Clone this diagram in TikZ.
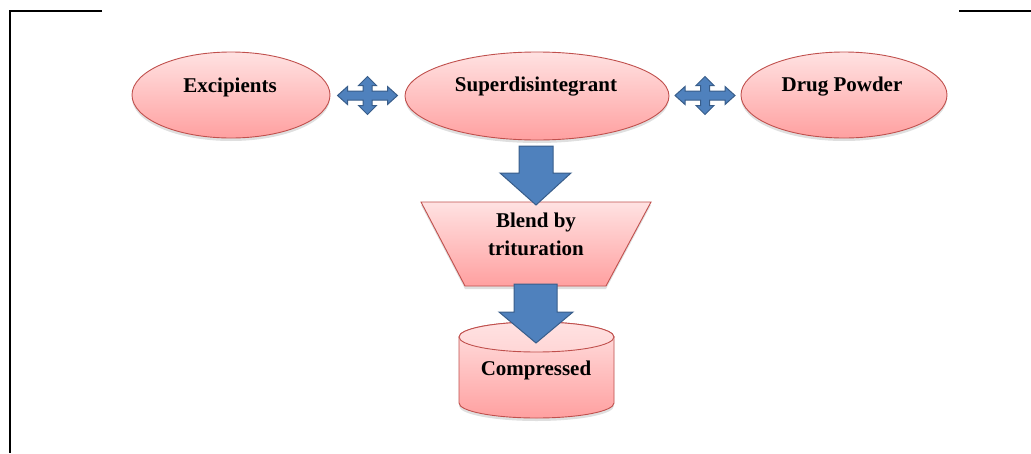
\documentclass[tikz,border=0pt]{standalone}
\usepackage{fontspec}
\setmainfont{Liberation Serif}
\usetikzlibrary{shapes.geometric,shadows,calc}
\definecolor{pinktop}{RGB}{255,226,226}
\definecolor{pinkbot}{RGB}{255,160,160}
\definecolor{pinklid}{RGB}{255,214,214}
\definecolor{pinkline}{RGB}{192,80,77}
\definecolor{arrowfill}{RGB}{79,129,189}
\definecolor{arrowline}{RGB}{56,93,138}
\tikzset{
  shp/.style={draw=pinkline, line width=0.9pt, top color=pinktop, bottom color=pinkbot,
    drop shadow={shadow xshift=0pt, shadow yshift=-3pt, opacity=0.25}},
  ell/.style={shp, ellipse, inner sep=0pt},
  lbl/.style={font=\bfseries\fontsize{21}{28}\selectfont, align=center, text=black, inner sep=0pt},
  blockarrow/.style={draw=arrowline, fill=arrowfill, line width=1pt, line join=miter},
  frameline/.style={line width=2pt, black},
  quadarrow/.pic={
    \path[blockarrow] (-30,0) -- (-20,-9) -- (-20,-4.5) -- (-4.5,-4.5) -- (-4.5,-10) -- (-9,-10)
      -- (0,-19) -- (9,-10) -- (4.5,-10) -- (4.5,-4.5) -- (20,-4.5) -- (20,-9) -- (30,0)
      -- (20,9) -- (20,4.5) -- (4.5,4.5) -- (4.5,10) -- (9,10) -- (0,19) -- (-9,10)
      -- (-4.5,10) -- (-4.5,4.5) -- (-20,4.5) -- (-20,9) -- cycle;
  }
}
\begin{document}
\begin{tikzpicture}[x=1pt,y=-1pt]
\useasboundingbox (0,0) rectangle (1031,453);
% frame
\draw[frameline] (102,11) -- (10,11) -- (10,453);
\draw[frameline] (959,11) -- (1031,11);
% top ellipses
\node[ell, minimum width=198pt, minimum height=86pt] (exc) at (231,95) {};
\node[ell, minimum width=264pt, minimum height=88pt] (sup) at (537,96) {};
\node[ell, minimum width=206pt, minimum height=86pt] (drug) at (844,95) {};
\node[lbl] (exct) at (230,87) {Excipients};
\node[lbl] (supt) at (536,87) {Superdisintegrant};
\node[lbl] (drugt) at (842,87) {Drug Powder};
% quad arrows
\pic at ($(exc.east)!0.5!(sup.west)$) {quadarrow};
\pic at ($(sup.east)!0.5!(drug.west)$) {quadarrow};
% trapezium
\path[shp] (421,202) -- (651,202) -- (606,286) -- (465,286) -- cycle;
\node[lbl] (blend) at (536,234) {Blend by\\trituration};
% cylinder
\path[shp] (459,337) -- (459,403) arc[start angle=180, end angle=360, x radius=77.5pt, y radius=15pt]
  -- (614,337) arc[start angle=0, end angle=180, x radius=77.5pt, y radius=15pt] -- cycle;
\path[draw=pinkline, line width=0.9pt, top color=pinktop, bottom color=pinklid] (536.5,337) ellipse [x radius=77.5pt, y radius=15pt];
\node[lbl] (comp) at (536,370) {Compressed};
% down arrows
\path[blockarrow] (519,146) -- (553,146) -- (553,173) -- (571,173) -- (536,205) -- (500,173) -- (519,173) -- cycle;
\path[blockarrow] (514,284) -- (557,284) -- (557,312) -- (573,312) -- (536,343) -- (499,312) -- (514,312) -- cycle;
\end{tikzpicture}
\end{document}
